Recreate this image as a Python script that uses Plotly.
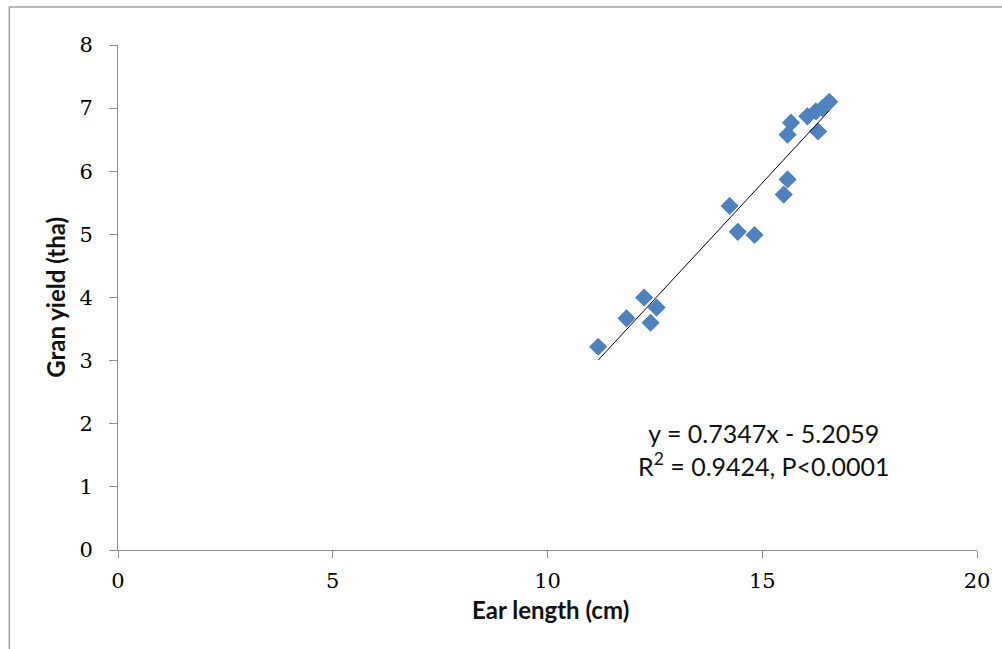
import plotly.graph_objects as go

# Ear length (cm) and grain yield (t/ha) observations
ear_length = [11.18, 11.84, 12.25, 12.54, 12.40, 14.24, 14.43, 14.82, 15.50, 15.59,
              15.59, 15.67, 16.30, 16.05, 16.25, 16.40, 16.56]
grain_yield = [3.22, 3.67, 4.00, 3.84, 3.60, 5.45, 5.04, 4.99, 5.63, 5.87,
               6.58, 6.77, 6.63, 6.87, 6.95, 7.00, 7.10]

# Linear fit reported on the chart
slope = 0.7347
intercept = -5.2059
r_squared = 0.9424

x_ticks = [0, 5, 10, 15, 20]
y_ticks = [0, 1, 2, 3, 4, 5, 6, 7, 8]

x_title = "Ear length (cm)"
y_title = "Gran yield (tha)"

fit_x = [min(ear_length), max(ear_length)]
fit_y = [slope * v + intercept for v in fit_x]

fig = go.Figure()

fig.add_trace(go.Scatter(
    x=ear_length, y=grain_yield, mode="markers",
    marker=dict(symbol="diamond", size=14, color="#4F81BD", line=dict(width=0)),
    showlegend=False, hoverinfo="x+y",
))

fig.add_trace(go.Scatter(
    x=fit_x, y=fit_y, mode="lines",
    line=dict(color="#000000", width=1),
    showlegend=False, hoverinfo="skip",
))

tick_font = dict(family="DejaVu Serif, Liberation Serif, serif", size=21, color="#000000")
title_font = dict(family="Lato, Open Sans, sans-serif", size=24, color="#111111")

fig.update_layout(
    width=1002, height=649,
    margin=dict(l=118, r=20, t=45, b=99),
    paper_bgcolor="white", plot_bgcolor="white",
    xaxis=dict(
        range=[0, 20], tickvals=x_ticks, ticktext=[str(v) for v in x_ticks],
        showgrid=False, zeroline=False, showline=True, linecolor="#8c8c8c", linewidth=1,
        ticks="outside", ticklen=7, tickcolor="#8c8c8c", tickfont=tick_font,
        ticklabelstandoff=5, fixedrange=True,
    ),
    yaxis=dict(
        range=[0, 8], tickvals=y_ticks, ticktext=[str(v) for v in y_ticks],
        showgrid=False, zeroline=False, showline=True, linecolor="#8c8c8c", linewidth=1,
        ticks="outside", ticklen=8, tickcolor="#8c8c8c", tickfont=tick_font,
        ticklabelstandoff=12, fixedrange=True,
    ),
    shapes=[dict(
        type="rect", xref="paper", yref="paper",
        x0=-0.1265, x1=1.2, y0=-0.4, y1=1.0752,
        line=dict(color="#a0a0a0", width=1.5), fillcolor="rgba(0,0,0,0)", layer="below",
    )],
    annotations=[
        dict(
            x=15.04, y=1.6, xref="x", yref="y",
            text=f"y = {slope}x - {abs(intercept):.4f}<br>R<sup>2</sup> = {r_squared}, P<0.0001",
            showarrow=False, align="center",
            font=dict(family="Lato, Open Sans, sans-serif", size=25, color="#111111"),
        ),
        dict(
            x=0.5035, y=-0.118, xref="paper", yref="paper",
            text=f"<b>{x_title}</b>", showarrow=False,
            xanchor="center", yanchor="middle", font=title_font,
        ),
        dict(
            x=-0.073, y=0.5, xref="paper", yref="paper",
            text=f"<b>{y_title}</b>", showarrow=False, textangle=-90,
            xanchor="center", yanchor="middle", font=title_font,
        ),
    ],
)

fig.write_html("out.html")
